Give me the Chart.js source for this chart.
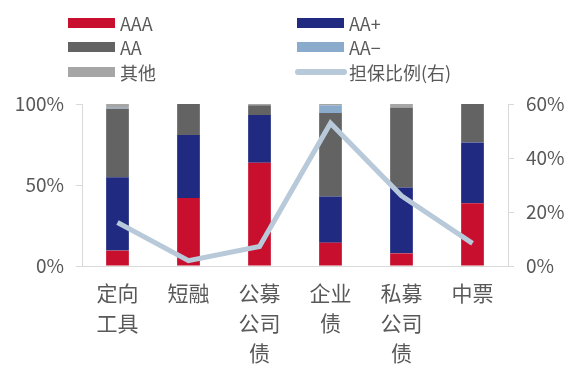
<!DOCTYPE html>
<html>
<head>
<meta charset="utf-8">
<script src="https://cdn.jsdelivr.net/npm/chart.js@4"></script>
<style>
  html, body { margin: 0; padding: 0; background: #fff; }
  #wrap { position: relative; width: 571px; height: 367px; }
  #legend { position: absolute; left: 0; top: 0; width: 571px; height: 90px;
    font-family: "Noto Sans CJK SC", "Noto Sans", sans-serif; font-size: 18px; color: #595959; }
  .item { position: absolute; display: flex; align-items: center; height: 24px; }
  .sw { width: 47px; height: 10px; margin-right: 5px; }
  .ln { width: 52px; height: 6px; border-radius: 3px; margin-right: 2px; }
</style>
</head>
<body>
<div id="wrap">
  <div id="legend"></div>
  <canvas id="chart" width="571" height="367"></canvas>
</div>
<script>
// Categories and series (stacked shares, left axis; guarantee ratio, right axis)
const categories = [['定向', '工具'], ['短融'], ['公募', '公司', '债'], ['企业', '债'], ['私募', '公司', '债'], ['中票']];
const aaa = [9.5, 41.9, 63.7, 14.4, 7.8, 38.8];
const aaPlus = [45.3, 38.9, 29.5, 28.5, 40.7, 37.5];
const aa = [42.3, 19.2, 6.0, 51.5, 49.4, 23.7];
const aaMinus = [0.5, 0, 0, 4.8, 0, 0];
const other = [2.4, 0, 0.8, 0.8, 2.1, 0];
const guaranteeRatio = [16.1, 2.0, 7.2, 52.9, 26.0, 8.4];

const leftTicks = [0, 50, 100];
const rightTicks = [0, 20, 40, 60];

const textColor = '#595959';
const axisColor = '#d9d9d9';
const fontFamily = '"Noto Sans CJK SC", "Noto Sans", sans-serif';

const barSeries = [
    { label: 'AAA', data: aaa, color: '#c8102e' },
    { label: 'AA+', data: aaPlus, color: '#1f2a80' },
    { label: 'AA', data: aa, color: '#636363' },
    { label: 'AA-', data: aaMinus, color: '#8aabcc' },
    { label: '其他', data: other, color: '#a6a6a6' }
];
const lineSeries = { label: '担保比例(右)', data: guaranteeRatio, color: '#b8c9d9' };

// Legend (two columns, three rows)
const legendEl = document.getElementById('legend');
const legendPos = [
    [68, 11], [297, 11],
    [68, 35], [297, 35],
    [68, 60], [295, 60]
];
const legendItems = barSeries.map(s => ({ label: s.label === 'AA-' ? 'AA−' : s.label, color: s.color, line: false }))
    .concat([{ label: lineSeries.label, color: lineSeries.color, line: true }]);
legendItems.forEach((it, i) => {
    const div = document.createElement('div');
    div.className = 'item';
    div.style.left = legendPos[i][0] + 'px';
    div.style.top = legendPos[i][1] + 'px';
    const sw = document.createElement('span');
    sw.className = it.line ? 'ln' : 'sw';
    sw.style.background = it.color;
    const tx = document.createElement('span');
    tx.textContent = it.label;
    div.appendChild(sw);
    div.appendChild(tx);
    legendEl.appendChild(div);
});

const datasets = [{
    type: 'line',
    label: lineSeries.label,
    data: lineSeries.data,
    yAxisID: 'y1',
    borderColor: lineSeries.color,
    borderWidth: 5,
    pointRadius: 0,
    tension: 0,
    order: 0
}].concat(barSeries.map(s => ({
    type: 'bar',
    label: s.label,
    data: s.data,
    backgroundColor: s.color,
    yAxisID: 'y',
    barPercentage: 0.32,
    categoryPercentage: 1,
    order: 1
})));

new Chart(document.getElementById('chart'), {
    data: { labels: categories, datasets: datasets },
    options: {
        responsive: false,
        animation: false,
        layout: { padding: { top: 104, left: 0, right: 0, bottom: 0 } },
        plugins: { legend: { display: false }, tooltip: { enabled: false } },
        scales: {
            x: {
                stacked: true,
                grid: { display: false, drawTicks: false },
                border: { color: axisColor, width: 1 },
                ticks: { color: textColor, font: { family: fontFamily, size: 21, lineHeight: 1.43 }, padding: 12, maxRotation: 0, autoSkip: false },
                afterFit: s => { s.height = 101; }
            },
            y: {
                stacked: true,
                position: 'left',
                min: 0, max: 100,
                afterBuildTicks: s => { s.ticks = leftTicks.map(v => ({ value: v })); },
                grid: { drawOnChartArea: false, drawTicks: true, tickLength: 6, color: axisColor },
                border: { color: axisColor, width: 1 },
                ticks: { color: textColor, font: { family: fontFamily, size: 19 }, padding: 12, callback: v => v + '%' },
                afterFit: s => { s.width = 82; }
            },
            y1: {
                position: 'right',
                min: 0, max: 60,
                afterBuildTicks: s => { s.ticks = rightTicks.map(v => ({ value: v })); },
                grid: { drawOnChartArea: false, drawTicks: true, tickLength: 6, color: axisColor },
                border: { color: axisColor, width: 1 },
                ticks: { color: textColor, font: { family: fontFamily, size: 19 }, padding: 12, callback: v => v + '%' },
                afterFit: s => { s.width = 63; }
            }
        }
    }
});
</script>
</body>
</html>
